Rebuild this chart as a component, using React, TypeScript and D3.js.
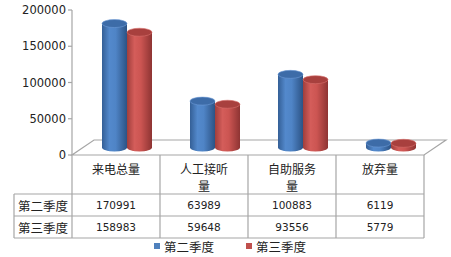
import React from "react";
import * as d3 from "d3";

const categories = ["来电总量", "人工接听量", "自助服务量", "放弃量"];
const headerLines = [["来电总量"], ["人工接听", "量"], ["自助服务", "量"], ["放弃量"]];
const seriesNames = ["第二季度", "第三季度"];
const q2Values = [170991, 63989, 100883, 6119];
const q3Values = [158983, 59648, 93556, 5779];
const yTicks = [0, 50000, 100000, 150000, 200000];

const W = 451;
const H = 257;
const left = 72;
const right = 424;
const floorY = 155;
const topY = 10;
const depthX = 22;
const depthY = -15;
const barW = 25;
const ry = 4;

const cjk = "'Noto Sans CJK SC', sans-serif";
const num = "'DejaVu Sans', Verdana, sans-serif";
const gridColor = "#a6a6a6";

export default function App() {
  const x = d3.scaleBand<string>().domain(categories).range([left, right]);
  const y = d3.scaleLinear().domain([0, 200000]).range([floorY, topY]);
  const series = [
    { name: seriesNames[0], values: q2Values, grad: "gBlue", top: "#3d6ca8", rim: "#6d9bd6", key: "#4f81bd" },
    { name: seriesNames[1], values: q3Values, grad: "gRed", top: "#a8403e", rim: "#d9706d", key: "#c0504d" },
  ];
  const midDx = depthX / 2;
  const midDy = depthY / 2;
  const baseY = y(0) + midDy;

  const rowTops = [floorY, 194, 216, 238];
  const labelLeft = 14;

  return (
    <svg width={W} height={H} style={{ position: "absolute", left: 0, top: 0, background: "#fff" }}>
      <defs>
        <linearGradient id="gBlue" x1="0" x2="1" y1="0" y2="0">
          <stop offset="0%" stopColor="#345f96" />
          <stop offset="30%" stopColor="#5389cc" />
          <stop offset="55%" stopColor="#4f84c6" />
          <stop offset="100%" stopColor="#2c5385" />
        </linearGradient>
        <linearGradient id="gRed" x1="0" x2="1" y1="0" y2="0">
          <stop offset="0%" stopColor="#a03e3c" />
          <stop offset="30%" stopColor="#d45d5a" />
          <stop offset="55%" stopColor="#cc5552" />
          <stop offset="100%" stopColor="#8e3433" />
        </linearGradient>
      </defs>

      {/* floor */}
      <polygon
        points={`${left},${floorY} ${right},${floorY} ${right + depthX},${floorY + depthY} ${left + depthX},${floorY + depthY}`}
        fill="none"
        stroke={gridColor}
        strokeWidth={1.2}
      />

      {/* value axis */}
      <line x1={left} x2={left} y1={y(200000)} y2={floorY} stroke={gridColor} strokeWidth={1.2} />
      {yTicks.map((t) => (
        <g key={t}>
          <line x1={left - 4} x2={left} y1={y(t)} y2={y(t)} stroke={gridColor} strokeWidth={1.2} />
          <text x={left - 6} y={y(t)} textAnchor="end" dominantBaseline="central" fontFamily={num} fontSize={11.5} fill="#222">
            {t}
          </text>
        </g>
      ))}

      {/* cylinders */}
      {categories.map((c, i) => {
        const cx = (x(c) as number) + x.bandwidth() / 2 + midDx;
        return series.map((s, k) => {
          const x0 = cx - barW + k * barW;
          const xm = x0 + barW / 2;
          const top = y(s.values[i]) + midDy;
          return (
            <g key={c + s.name}>
              <path
                d={`M${x0},${top} L${x0},${baseY} A${barW / 2},${ry} 0 0 0 ${x0 + barW},${baseY} L${x0 + barW},${top} Z`}
                fill={`url(#${s.grad})`}
              />
              <ellipse cx={xm} cy={top} rx={barW / 2} ry={ry} fill={s.top} stroke={s.rim} strokeWidth={0.6} />
            </g>
          );
        });
      })}

      {/* data table */}
      <g stroke={gridColor} strokeWidth={1.2} fill="none">
        {[left, ...categories.map((c) => (x(c) as number) + x.bandwidth())].map((vx, i) => (
          <line key={"v" + i} x1={vx} x2={vx} y1={floorY} y2={rowTops[3]} />
        ))}
        <line x1={labelLeft} x2={labelLeft} y1={rowTops[1]} y2={rowTops[3]} />
        {rowTops.slice(1).map((ry2, i) => (
          <line key={"h" + i} x1={labelLeft} x2={right} y1={ry2} y2={ry2} />
        ))}
      </g>
      {categories.map((c, i) =>
        headerLines[i].map((ln, j) => (
          <text
            key={"hd" + c + j}
            x={(x(c) as number) + x.bandwidth() / 2}
            y={168 + j * 17}
            textAnchor="middle"
            dominantBaseline="central"
            fontFamily={cjk}
            fontSize={12}
            fill="#222"
          >
            {ln}
          </text>
        ))
      )}
      {series.map((s, k) => {
        const cy = (rowTops[k + 1] + rowTops[k + 2]) / 2;
        return (
          <g key={"row" + s.name}>
            <text x={(labelLeft + left) / 2} y={cy} textAnchor="middle" dominantBaseline="central" fontFamily={cjk} fontSize={12.5} fill="#222">
              {s.name}
            </text>
            {categories.map((c, i) => (
              <text
                key={c}
                x={(x(c) as number) + x.bandwidth() / 2}
                y={cy}
                textAnchor="middle"
                dominantBaseline="central"
                fontFamily={num}
                fontSize={10.5}
                fill="#222"
              >
                {s.values[i]}
              </text>
            ))}
          </g>
        );
      })}

      {/* legend */}
      {series.map((s, k) => {
        const lx = 154 + k * 92;
        return (
          <g key={"lg" + s.name}>
            <rect x={lx} y={243} width={6} height={6} fill={s.key} />
            <text x={lx + 10} y={246} dominantBaseline="central" fontFamily={cjk} fontSize={12.5} fill="#222">
              {s.name}
            </text>
          </g>
        );
      })}
    </svg>
  );
}
